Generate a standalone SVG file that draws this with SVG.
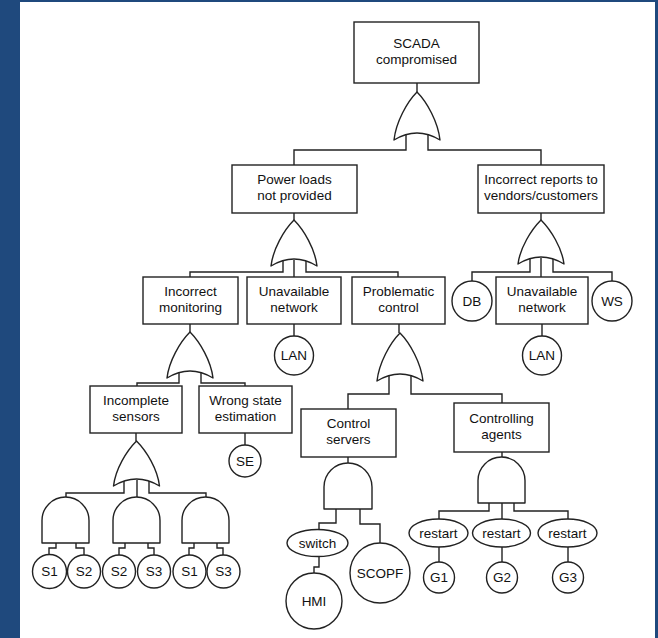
<svg xmlns="http://www.w3.org/2000/svg" width="658" height="638" viewBox="0 0 658 638">
  <style>
    .frame { fill: #1f497d; }
    .box { fill: #fff; stroke: #222; stroke-width: 1.4; }
    .gate { fill: #fff; stroke: #222; stroke-width: 1.4; stroke-linejoin: round; }
    .ev { fill: #fff; stroke: #222; stroke-width: 1.4; }
    .wire { fill: none; stroke: #222; stroke-width: 1.4; }
    text { font-family: "Liberation Sans", Arial, sans-serif; font-size: 13.5px; fill: #111; text-anchor: middle; }
  </style>

  <!-- page background and frame -->
  <rect x="0" y="0" width="658" height="638" fill="#fff"/>
  <rect class="frame" x="0" y="0" width="20" height="638"/>
  <rect class="frame" x="0" y="0" width="658" height="2"/>
  <rect class="frame" x="655" y="0" width="3" height="638"/>

  <!-- connectors -->
  <g id="connectors">
    <path class="wire" d="M417,83 V92"/>
    <path class="wire" d="M406,132 V150 H294 V165"/>
    <path class="wire" d="M428,132 V150 H541 V165"/>

    <path class="wire" d="M294,213 V220"/>
    <path class="wire" d="M283,258 V272 H190 V277"/>
    <path class="wire" d="M294,260 V277"/>
    <path class="wire" d="M306,258 V272 H398 V277"/>

    <path class="wire" d="M541,213 V220"/>
    <path class="wire" d="M530,256 V272 H472 V281"/>
    <path class="wire" d="M541,258 V277"/>
    <path class="wire" d="M553,256 V272 H612 V281"/>
    <path class="wire" d="M542,324 V336"/>

    <path class="wire" d="M294,324 V336"/>

    <path class="wire" d="M190,324 V332"/>
    <path class="wire" d="M179,370 V383 H137 V386"/>
    <path class="wire" d="M201,370 V383 H245 V386"/>
    <path class="wire" d="M245,433 V445"/>

    <path class="wire" d="M399,324 V333"/>
    <path class="wire" d="M389,372 V394 H348 V409"/>
    <path class="wire" d="M411,372 V394 H502 V403"/>

    <path class="wire" d="M136,433 V441"/>
    <path class="wire" d="M124,478 V493 H66 V497"/>
    <path class="wire" d="M137,480 V497"/>
    <path class="wire" d="M149,478 V493 H206 V497"/>

    <path class="wire" d="M56,540 V548 H49 V555"/>
    <path class="wire" d="M76,540 V548 H84 V555"/>
    <path class="wire" d="M125,540 V548 H119 V555"/>
    <path class="wire" d="M148,540 V548 H154 V555"/>
    <path class="wire" d="M194,540 V548 H189 V555"/>
    <path class="wire" d="M217,540 V548 H223 V555"/>

    <path class="wire" d="M348,457 V463"/>
    <path class="wire" d="M336,505 V523 H319 V530"/>
    <path class="wire" d="M360,505 V524 H380 V543"/>
    <path class="wire" d="M319,556 V567 H314 V573"/>

    <path class="wire" d="M502,452 V457"/>
    <path class="wire" d="M489,500 V511 H439 V519"/>
    <path class="wire" d="M502,500 V519"/>
    <path class="wire" d="M514,500 V511 H568 V519"/>
    <path class="wire" d="M439,547 V562"/>
    <path class="wire" d="M502,547 V562"/>
    <path class="wire" d="M568,547 V562"/>
  </g>

  <!-- gates -->
  <g id="or-top">
    <path class="gate" d="M417,92 C407,102 396,122 394,140 Q417,126 440,140 C438,122 427,102 417,92 Z"/>
  </g>
  <g id="or-power">
    <path class="gate" d="M294,220 C284,230 273,249 271,266 Q294,252 317,266 C315,249 304,230 294,220 Z"/>
  </g>
  <g id="or-reports">
    <path class="gate" d="M541,220 C531,230 520,248 518,264 Q541,250 564,264 C562,248 551,230 541,220 Z"/>
  </g>
  <g id="or-monitoring">
    <path class="gate" d="M190,332 C180,342 169,361 167,378 Q190,364 213,378 C211,361 200,342 190,332 Z"/>
  </g>
  <g id="or-control">
    <path class="gate" d="M400,333 C390,343 379,363 377,381 Q400,367 423,381 C421,363 410,343 400,333 Z"/>
  </g>
  <g id="or-sensors">
    <path class="gate" d="M136.5,441 C126.5,451 115.5,469 113.5,486 Q136.5,472 159.5,486 C157.5,469 146.5,451 136.5,441 Z"/>
  </g>
  <g id="and-s12">
    <path class="gate" d="M42,543 V520.5 A23.5,23.5 0 0 1 89,520.5 V543 Z"/>
  </g>
  <g id="and-s23">
    <path class="gate" d="M113,543 V520.5 A23.5,23.5 0 0 1 160,520.5 V543 Z"/>
  </g>
  <g id="and-s13">
    <path class="gate" d="M182,543 V520.5 A23.5,23.5 0 0 1 229,520.5 V543 Z"/>
  </g>
  <g id="and-servers">
    <path class="gate" d="M324,509 V487 A24,24 0 0 1 372,487 V509 Z"/>
  </g>
  <g id="and-agents">
    <path class="gate" d="M478,503 V480.5 A23.5,23.5 0 0 1 525,480.5 V503 Z"/>
  </g>

  <!-- event boxes -->
  <g id="scada">
    <rect class="box" x="354" y="22" width="125" height="61"/>
    <text x="416.5" y="48">SCADA</text>
    <text x="416.5" y="64">compromised</text>
  </g>
  <g id="power-loads">
    <rect class="box" x="232" y="165" width="125" height="48"/>
    <text x="294.5" y="184">Power loads</text>
    <text x="294.5" y="200">not provided</text>
  </g>
  <g id="incorrect-reports">
    <rect class="box" x="478" y="165" width="126" height="48"/>
    <text x="541" y="184">Incorrect reports to</text>
    <text x="541" y="200">vendors/customers</text>
  </g>
  <g id="incorrect-monitoring">
    <rect class="box" x="143" y="277" width="95" height="47"/>
    <text x="190.5" y="296">Incorrect</text>
    <text x="190.5" y="312">monitoring</text>
  </g>
  <g id="unavailable-network-1">
    <rect class="box" x="247" y="277" width="94" height="47"/>
    <text x="294" y="296">Unavailable</text>
    <text x="294" y="312">network</text>
  </g>
  <g id="problematic-control">
    <rect class="box" x="352" y="277" width="93" height="47"/>
    <text x="398.5" y="296">Problematic</text>
    <text x="398.5" y="312">control</text>
  </g>
  <g id="unavailable-network-2">
    <rect class="box" x="496" y="277" width="92" height="47"/>
    <text x="542" y="296">Unavailable</text>
    <text x="542" y="312">network</text>
  </g>
  <g id="incomplete-sensors">
    <rect class="box" x="90" y="386" width="92" height="47"/>
    <text x="136" y="405">Incomplete</text>
    <text x="136" y="421">sensors</text>
  </g>
  <g id="wrong-state">
    <rect class="box" x="199" y="386" width="93" height="47"/>
    <text x="245.5" y="405">Wrong state</text>
    <text x="245.5" y="421">estimation</text>
  </g>
  <g id="control-servers">
    <rect class="box" x="301" y="409" width="95" height="48"/>
    <text x="348.5" y="428">Control</text>
    <text x="348.5" y="444">servers</text>
  </g>
  <g id="controlling-agents">
    <rect class="box" x="454" y="403" width="95" height="49"/>
    <text x="501.5" y="423">Controlling</text>
    <text x="501.5" y="439">agents</text>
  </g>

  <!-- basic events -->
  <g id="lan-1"><circle class="ev" cx="294" cy="355.5" r="19.5"/><text x="294" y="360">LAN</text></g>
  <g id="db"><circle class="ev" cx="472" cy="301" r="20"/><text x="472" y="305.5">DB</text></g>
  <g id="ws"><circle class="ev" cx="612" cy="301" r="20"/><text x="612" y="305.5">WS</text></g>
  <g id="lan-2"><circle class="ev" cx="542" cy="355.5" r="19.5"/><text x="542" y="360">LAN</text></g>
  <g id="se"><circle class="ev" cx="245" cy="461" r="16"/><text x="245" y="465.5">SE</text></g>

  <g id="s1-a"><circle class="ev" cx="49.5" cy="571.5" r="17"/><text x="49.5" y="576">S1</text></g>
  <g id="s2-a"><circle class="ev" cx="84" cy="571.5" r="16.5"/><text x="84" y="576">S2</text></g>
  <g id="s2-b"><circle class="ev" cx="119" cy="571.5" r="16.5"/><text x="119" y="576">S2</text></g>
  <g id="s3-a"><circle class="ev" cx="154" cy="571.5" r="16.5"/><text x="154" y="576">S3</text></g>
  <g id="s1-b"><circle class="ev" cx="189.5" cy="571.5" r="16.5"/><text x="189.5" y="576">S1</text></g>
  <g id="s3-b"><circle class="ev" cx="223.5" cy="571.5" r="16.5"/><text x="223.5" y="576">S3</text></g>

  <g id="switch"><ellipse class="ev" cx="317.5" cy="543" rx="30.5" ry="13.5"/><text x="317.5" y="547.5">switch</text></g>
  <g id="hmi"><circle class="ev" cx="314" cy="601" r="28"/><text x="314" y="605.5">HMI</text></g>
  <g id="scopf"><circle class="ev" cx="380" cy="573" r="30"/><text x="380" y="577.5">SCOPF</text></g>

  <g id="restart-1"><ellipse class="ev" cx="438.5" cy="533" rx="29.5" ry="14"/><text x="438.5" y="537.5">restart</text></g>
  <g id="restart-2"><ellipse class="ev" cx="501.5" cy="533" rx="29" ry="14"/><text x="501.5" y="537.5">restart</text></g>
  <g id="restart-3"><ellipse class="ev" cx="567.5" cy="533" rx="29.5" ry="14"/><text x="567.5" y="537.5">restart</text></g>
  <g id="g1"><circle class="ev" cx="439" cy="577.5" r="15.5"/><text x="439" y="582">G1</text></g>
  <g id="g2"><circle class="ev" cx="502" cy="577.5" r="15.5"/><text x="502" y="582">G2</text></g>
  <g id="g3"><circle class="ev" cx="568" cy="577.5" r="15.5"/><text x="568" y="582">G3</text></g>
</svg>
